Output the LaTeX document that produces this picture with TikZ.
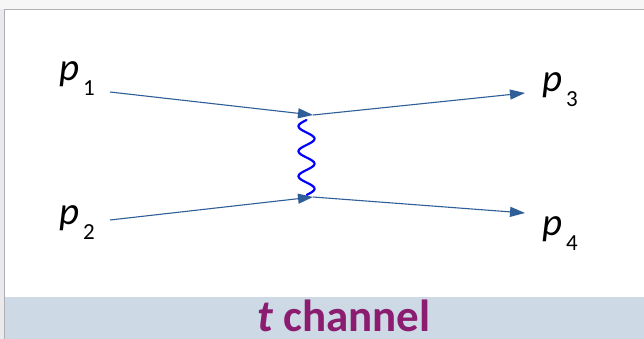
\documentclass[tikz,border=0pt]{standalone}
\usepackage{fontspec}
\setmainfont{Carlito}
\usetikzlibrary{arrows.meta}
\definecolor{lineblue}{RGB}{47,94,152}
\definecolor{bandblue}{RGB}{205,218,230}
\definecolor{titlepurple}{RGB}{140,28,112}
\definecolor{framegray}{RGB}{175,175,175}
\definecolor{outergray}{RGB}{246,246,246}
\definecolor{leftgray}{RGB}{233,233,238}
\tikzset{
  particle/.style={draw=lineblue, line width=1.1pt, -{Triangle[length=15pt,width=10pt]}},
  boson/.style={draw=blue, line width=2.2pt, line cap=round},
  plabel/.style={anchor=base west, inner sep=0pt, font=\fontsize{39}{39}\selectfont},
}
\newcommand{\mysub}[1]{\raisebox{-15pt}{\fontsize{23}{23}\selectfont\,#1}}
\begin{document}
\begin{tikzpicture}[x=1pt,y=-1pt]
\useasboundingbox (0,0) rectangle (644,339);
% background
\fill[outergray] (0,0) rectangle (644,9.5);
\fill[leftgray] (0,9.5) rectangle (4,339);
\fill[white] (4,9.5) rectangle (644,297);
\fill[bandblue] (4,297) rectangle (644,339);
\draw[framegray, line width=1.3pt] (4.6,339) -- (4.6,9.6) -- (644,9.6);
% title
\node[anchor=base, inner sep=0pt, text=titlepurple, font=\fontsize{45}{45}\selectfont\bfseries] (title) at (344,331) {\itshape t\upshape\ channel};
% labels
\node[plabel] (p1) at (59,81) {\itshape p\upshape\mysub{1}};
\node[plabel] (p2) at (59,224) {\itshape p\upshape\mysub{2}};
\node[plabel] (p3) at (542,92) {\itshape p\upshape\mysub{3}};
\node[plabel] (p4) at (542,235) {\itshape p\upshape\mysub{4}};
% vertices
\coordinate (a1) at (110,92);
\coordinate (a2) at (110,220);
\coordinate (v1) at (313,115);
\coordinate (v2) at (313,197);
\coordinate (e3) at (525,93);
\coordinate (e4) at (525,213);
\draw[particle] (a1) -- (v1);
\draw[particle] (v1) -- (e3);
\draw[particle] (a2) -- (v2);
\draw[particle] (v2) -- (e4);
% photon propagator
\draw[boson] plot[domain=0:1, samples=120, smooth] ({306.5 - 8*sin(3*360*\x)}, {120 + 75*\x});
\end{tikzpicture}
\end{document}
